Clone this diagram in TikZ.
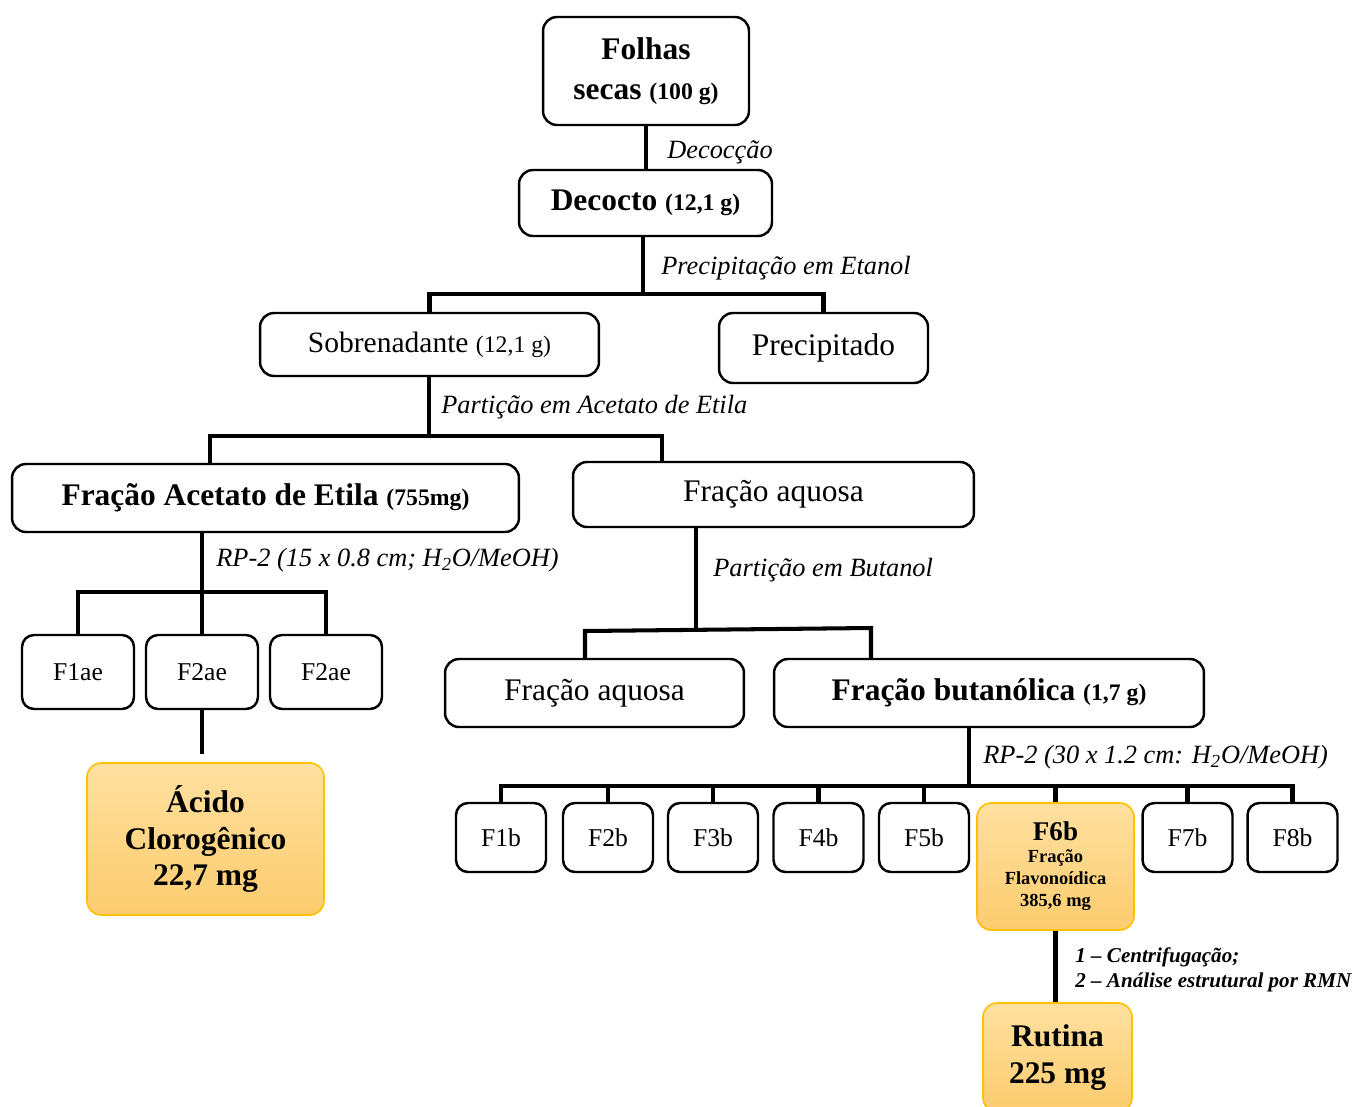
\documentclass[tikz,border=0pt]{standalone}
\usepackage{fontspec}
\setmainfont{Liberation Serif}
\usepackage{tikz}
\usetikzlibrary{positioning}

\definecolor{hltop}{RGB}{254,224,160}
\definecolor{hlbot}{RGB}{252,204,110}
\definecolor{hlline}{RGB}{255,192,0}

\newcommand{\szbig}{\fontsize{17.9}{22.5}\selectfont}
\newcommand{\szsob}{\fontsize{16.8}{20}\selectfont}
\newcommand{\szmid}{\fontsize{13.5}{16}\selectfont}
\newcommand{\szfr}{\fontsize{14.6}{17}\selectfont}
\newcommand{\szlab}{\fontsize{15}{18}\selectfont}
\newcommand{\szsix}{\fontsize{10.5}{12.5}\selectfont}

\tikzset{
	box/.style={draw, rounded corners=2.8mm, line width=1.4pt, inner sep=0pt, align=center},
	frbox/.style={box, rounded corners=2.4mm, minimum width=18mm, minimum height=13.8mm, font=\szfr},
	hlbox/.style={box, draw=hlline, line width=0.9pt, top color=hltop, bottom color=hlbot},
	conn/.style={line width=2.3pt},
	lbl/.style={anchor=west, inner sep=0pt, font=\szlab\itshape},
}

\begin{document}
\begin{tikzpicture}[x=0.02cm, y=-0.02cm]
	\useasboundingbox (0,0) rectangle (1356,1106);
	%
	\node[box, minimum width=41.2mm, minimum height=21.6mm, font=\szbig\bfseries] (folhas) at (646,71) {Folhas\\secas {\szmid(100 g)}};
	\node[box, minimum width=50.6mm, minimum height=13.2mm, font=\szbig\bfseries] (decocto) at (645.5,203) {Decocto {\szmid(12,1 g)}};
	\node[box, minimum width=67.8mm, minimum height=12.6mm, font=\szsob] (sobr) at (429.5,344.5) {Sobrenadante {\szmid(12,1 g)}};
	\node[box, minimum width=41.8mm, minimum height=14mm, font=\szbig] (prec) at (823.5,348) {Precipitado};
	\node[box, minimum width=101.4mm, minimum height=13.6mm, font=\szbig\bfseries] (fae) at (265.5,498) {Fração Acetato de Etila {\szmid(755mg)}};
	\node[box, minimum width=80.2mm, minimum height=13mm, font=\szbig] (faq1) at (773.5,494.5) {Fração aquosa};
	%
	\node[frbox, minimum width=22.4mm, minimum height=14.8mm] (f1ae) at (78,672) {F1ae};
	\node[frbox, minimum width=22.4mm, minimum height=14.8mm] (f2ae) at (202,672) {F2ae};
	\node[frbox, minimum width=22.4mm, minimum height=14.8mm] (f3ae) at (326,672) {F2ae};
	\node[hlbox, minimum width=47.4mm, minimum height=30.4mm, font=\fontsize{17.9}{21}\selectfont\bfseries] (acido) at (205.5,839) {Ácido\\Clorogênico\\22,7 mg};
	%
	\node[box, minimum width=59.8mm, minimum height=13.6mm, font=\szbig] (faq2) at (594.5,693) {Fração aquosa};
	\node[box, minimum width=86mm, minimum height=13.6mm, font=\szbig\bfseries] (fbut) at (989,693) {Fração butanólica {\szmid(1,7 g)}};
	%
	\node[frbox] (f1b) at (501,837.5) {F1b};
	\node[frbox] (f2b) at (608,837.5) {F2b};
	\node[frbox] (f3b) at (713,837.5) {F3b};
	\node[frbox] (f4b) at (818.5,837.5) {F4b};
	\node[frbox] (f5b) at (924,837.5) {F5b};
	\node[hlbox, minimum width=31.4mm, minimum height=25.4mm, font=\szsix\bfseries] (f6b) at (1055.5,866.5) {{\fontsize{15.4}{17}\selectfont F6b}\\Fração\\Flavonoídica\\385,6 mg};
	\node[frbox] (f7b) at (1187.5,837.5) {F7b};
	\node[frbox] (f8b) at (1292.5,837.5) {F8b};
	\node[hlbox, minimum width=29.8mm, minimum height=21.8mm, font=\fontsize{17.9}{21.5}\selectfont\bfseries] (rutina) at (1057.5,1057.5) {Rutina\\225 mg};
	%
	\coordinate (j1) at (643,294);
	\coordinate (j2) at (429,436);
	\coordinate (j2l) at (210,436);
	\coordinate (j2r) at (662,436);
	\coordinate (j3) at (203,592);
	\coordinate (j4) at (696,630);
	\coordinate (j4l) at (585,631);
	\coordinate (j4r) at (871,628);
	\coordinate (j5) at (969,786);
	%
	\draw[conn] (folhas.south) -- (folhas.south |- decocto.north);
	\draw[conn] (decocto.south -| j1) -- (j1);
	\draw[conn] (sobr.north) |- (j1) -| (prec.north);
	\draw[conn] (sobr.south -| j2) -- (j2);
	\draw[conn] (j2l |- fae.north) -- (j2l) -- (j2r) -- (j2r |- faq1.north);
	\draw[conn] (fae.south -| f2ae.north) -- (f2ae.north);
	\draw[conn] (f1ae.north) |- (j3) -| (f3ae.north);
	\draw[conn, shorten >=1.6mm] (f2ae.south) -- (f2ae.south |- acido.north);
	\draw[conn] (faq1.south -| j4) -- (j4);
	\draw[conn] (j4l |- faq2.north) -- (j4l) -- (j4r) -- (j4r |- fbut.north);
	\draw[conn] (fbut.south -| j5) -- (j5);
	\draw[conn] (f1b.north) |- (j5) -| (f8b.north);
	\foreach \n in {f2b,f3b,f4b,f5b,f6b,f7b}
		\draw[conn] (\n.north) -- (\n.north |- j5);
	\draw[conn] (f6b.south) -- (f6b.south |- rutina.north);
	%
	\node[lbl] (lbdec) at (667,152) {Decocção};
	\node[lbl] (lbprec) at (661,268) {Precipitação em Etanol};
	\node[lbl] (lbace) at (441,407) {Partição em Acetato de Etila};
	\node[lbl] (lbrp1) at (216,560) {RP-2 (15 x 0.8 cm; H\textsubscript{2}O/MeOH)};
	\node[lbl] (lbbut) at (713,570) {Partição em Butanol};
	\node[lbl] (lbrp2) at (983,757) {RP-2 (30 x 1.2 cm: H\textsubscript{2}O/MeOH)};
	\node[lbl, align=left, font=\fontsize{12}{14.2}\selectfont\bfseries\itshape] (lbrmn) at (1075,970) {1 – Centrifugação;\\2 – Análise estrutural por RMN};
\end{tikzpicture}
\end{document}
